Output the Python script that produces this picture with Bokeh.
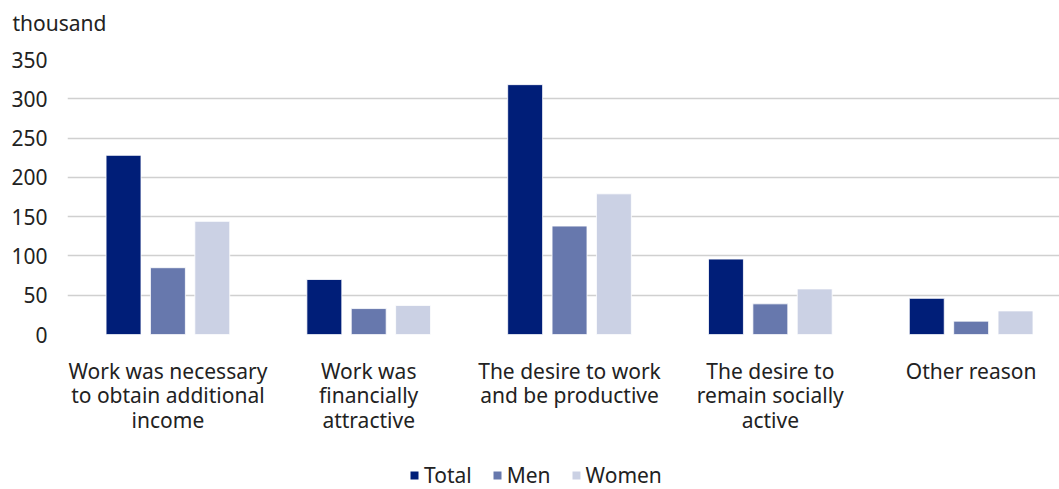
import numpy as np
from bokeh.plotting import figure
from bokeh.layouts import column
from bokeh.models import (Range1d, FixedTicker, Legend, LegendItem, Title, ColumnDataSource)
from bokeh.embed import file_html
from bokeh.resources import INLINE

categories = ["Work was necessary\nto obtain additional\nincome",
              "Work was\nfinancially\nattractive",
              "The desire to work\nand be productive",
              "The desire to\nremain socially\nactive",
              "Other reason"]
total = [228, 70, 318, 96, 46]
men = [85, 33, 138, 39, 17]
women = [144, 37, 179, 58, 30]
series_names = ["Total", "Men", "Women"]
y_ticks = [0, 50, 100, 150, 200, 250, 300, 350]
unit_label = "thousand"

colors = ["#001e78", "#6778ad", "#cbd1e4"]
FONT = "Noto Sans"
FS = "21px"
TXT = "#222222"


def strip(height, top_border):
    f = figure(width=1059, height=height, output_backend="svg", toolbar_location=None,
               x_range=Range1d(0, 1), y_range=Range1d(0, 1),
               min_border_left=0, min_border_right=0,
               min_border_top=top_border, min_border_bottom=0)
    f.outline_line_color = None
    f.axis.visible = False
    f.grid.visible = False
    return f


# top strip with the unit text
tf = strip(40, 39)
tf.add_layout(Title(text=unit_label, align="left", offset=-55, standoff=6,
                    text_font=FONT, text_font_size=FS, text_color=TXT,
                    text_font_style="normal"), "above")

pos = np.arange(len(categories)) + 0.5

p = figure(width=1059, height=399, output_backend="svg", toolbar_location=None,
           x_range=Range1d(0, 4.94), y_range=Range1d(0, 350),
           min_border_left=67, min_border_right=0, min_border_top=19, min_border_bottom=105)
p.outline_line_color = None
p.background_fill_color = "white"
p.border_fill_color = "white"

offsets = [-0.221, 0.0, 0.221]
for vals, off, col in zip([total, men, women], offsets, colors):
    src = ColumnDataSource(dict(x=pos + off, top=vals))
    p.vbar(x="x", top="top", bottom=0, width=0.174, source=src,
           fill_color=col, line_color="white", line_width=0.8)

p.xgrid.grid_line_color = None
p.ygrid.grid_line_color = "#d0d0d0"
p.ygrid.grid_line_width = 1.6

p.yaxis.ticker = FixedTicker(ticks=y_ticks)
p.xaxis.ticker = FixedTicker(ticks=list(pos))
p.xaxis.major_label_overrides = {float(x): c for x, c in zip(pos, categories)}

for ax in (p.xaxis[0], p.yaxis[0]):
    ax.axis_line_color = None
    ax.major_tick_line_color = None
    ax.minor_tick_line_color = None
    ax.major_label_text_font = FONT
    ax.major_label_text_font_size = FS
    ax.major_label_text_color = TXT
p.yaxis.major_label_standoff = 14
p.xaxis.major_label_standoff = 16
p.xaxis.major_label_text_line_height = 0.875

# legend strip below the chart
lf = strip(50, 0)
leg_renderers = []
for col in colors:
    # legend proxies, placed outside the visible range of the strip
    r = lf.vbar(x=[5], top=[1], width=0.1, fill_color=col, line_color=None)
    leg_renderers.append(r)
legend = Legend(items=[LegendItem(label=n, renderers=[r]) for n, r in zip(series_names, leg_renderers)],
                orientation="horizontal", location=(342, 0),
                glyph_width=10, glyph_height=10, label_standoff=5, spacing=20,
                padding=0, margin=0, border_line_color=None, background_fill_alpha=0,
                label_text_font=FONT, label_text_font_size=FS, label_text_color=TXT,
                label_height=20)
lf.add_layout(legend, "center")

layout = column(tf, p, lf, spacing=0)
open("out.html", "w").write(file_html(layout, INLINE))
